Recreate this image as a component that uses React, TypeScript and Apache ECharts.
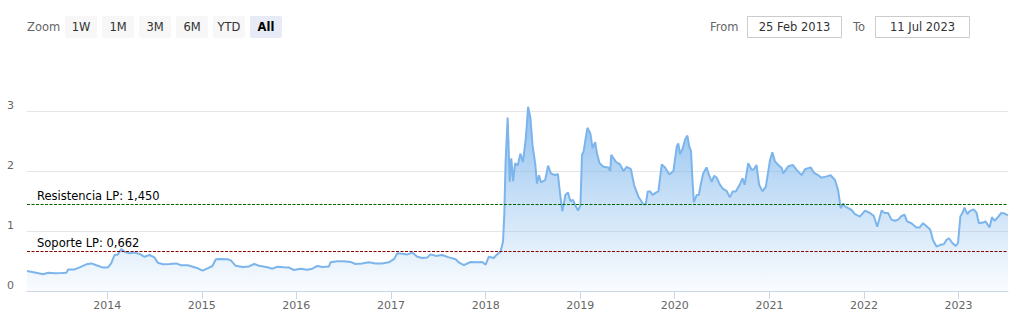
import { useEffect, useRef } from "react";
import * as echarts from "echarts";

const dates = [
  "2013-02-25", "2013-03-27", "2013-04-28", "2013-05-18", "2013-06-12", "2013-07-08", "2013-07-27", "2013-08-03", "2013-08-28", "2013-09-16", "2013-10-12", "2013-11-01", "2013-11-20", "2013-12-16",
  "2014-01-03", "2014-01-16", "2014-01-29", "2014-02-11", "2014-02-24", "2014-03-09", "2014-03-28", "2014-04-16", "2014-05-06", "2014-05-25", "2014-06-13", "2014-07-02", "2014-07-15", "2014-08-04", "2014-08-29", "2014-09-24", "2014-10-13", "2014-11-08", "2014-11-27", "2014-12-17",
  "2015-01-04", "2015-01-23", "2015-02-11", "2015-02-24", "2015-03-15", "2015-04-10", "2015-04-23", "2015-05-12", "2015-06-07", "2015-07-02", "2015-07-22", "2015-08-10", "2015-09-11", "2015-10-01", "2015-10-20", "2015-11-14", "2015-12-04", "2015-12-23",
  "2016-01-17", "2016-02-12", "2016-03-03", "2016-03-22", "2016-04-10", "2016-05-06", "2016-05-12", "2016-06-07", "2016-07-02", "2016-07-28", "2016-08-16", "2016-09-11", "2016-10-07", "2016-11-02", "2016-11-27", "2016-12-23",
  "2017-01-12", "2017-01-25", "2017-02-13", "2017-03-05", "2017-03-24", "2017-04-12", "2017-05-01", "2017-05-21", "2017-06-02", "2017-06-22", "2017-07-17", "2017-08-12", "2017-09-07", "2017-09-19", "2017-10-09", "2017-11-04", "2017-11-29", "2017-12-19",
  "2018-01-01", "2018-01-13", "2018-02-01", "2018-02-14", "2018-02-27", "2018-03-09", "2018-03-14", "2018-03-19", "2018-03-27", "2018-04-04", "2018-04-10", "2018-04-17", "2018-04-25", "2018-05-05", "2018-05-15", "2018-05-25", "2018-06-05", "2018-06-14", "2018-06-23", "2018-07-01", "2018-07-12", "2018-07-18", "2018-07-26", "2018-08-03", "2018-08-19", "2018-08-30", "2018-09-10", "2018-09-27", "2018-10-07", "2018-10-16", "2018-10-24", "2018-11-05", "2018-11-15", "2018-11-24", "2018-12-04", "2018-12-13", "2018-12-24",
  "2019-01-02", "2019-01-08", "2019-01-14", "2019-01-22", "2019-01-29", "2019-02-09", "2019-02-18", "2019-02-28", "2019-03-07", "2019-03-17", "2019-04-01", "2019-04-20", "2019-04-27", "2019-05-01", "2019-05-10", "2019-05-20", "2019-06-04", "2019-06-17", "2019-06-30", "2019-07-16", "2019-07-28", "2019-08-14", "2019-09-02", "2019-09-11", "2019-09-19", "2019-09-28", "2019-10-08", "2019-10-20", "2019-10-30", "2019-11-12", "2019-11-25", "2019-12-11", "2019-12-27",
  "2020-01-09", "2020-01-15", "2020-01-21", "2020-02-01", "2020-02-10", "2020-02-19", "2020-02-26", "2020-03-04", "2020-03-10", "2020-03-15", "2020-03-26", "2020-04-03", "2020-04-10", "2020-04-20", "2020-05-03", "2020-05-13", "2020-05-23", "2020-06-01", "2020-06-11", "2020-06-24", "2020-07-06", "2020-07-19", "2020-08-01", "2020-08-12", "2020-08-24", "2020-09-09", "2020-09-19", "2020-09-27", "2020-10-11", "2020-10-24", "2020-11-02", "2020-11-12", "2020-11-22", "2020-12-05", "2020-12-18",
  "2021-01-03", "2021-01-12", "2021-01-22", "2021-02-04", "2021-02-17", "2021-02-23", "2021-03-15", "2021-04-01", "2021-04-16", "2021-05-05", "2021-05-18", "2021-06-09", "2021-06-22", "2021-07-08", "2021-07-21", "2021-08-10", "2021-08-25", "2021-09-11", "2021-09-23", "2021-10-03", "2021-10-13", "2021-10-19", "2021-11-01", "2021-11-14", "2021-11-27", "2021-12-16",
  "2022-01-05", "2022-01-24", "2022-02-08", "2022-02-21", "2022-03-10", "2022-03-22", "2022-04-04", "2022-04-17", "2022-04-30", "2022-05-13", "2022-05-26", "2022-06-07", "2022-06-16", "2022-07-03", "2022-07-22", "2022-08-04", "2022-08-17", "2022-09-05", "2022-09-14", "2022-09-24", "2022-10-08", "2022-10-23", "2022-11-05", "2022-11-15", "2022-11-25", "2022-12-08", "2022-12-21", "2022-12-30",
  "2023-01-08", "2023-01-16", "2023-01-24", "2023-02-04", "2023-02-13", "2023-02-28", "2023-03-11", "2023-03-21", "2023-04-05", "2023-04-15", "2023-05-01", "2023-05-10", "2023-05-20", "2023-06-02", "2023-06-15", "2023-06-28", "2023-07-11",
];

const values = [
  0.333, 0.31, 0.28, 0.305, 0.295, 0.3, 0.305, 0.36, 0.36, 0.395, 0.445, 0.46, 0.43, 0.39,
  0.39, 0.46, 0.6, 0.61, 0.7, 0.655, 0.63, 0.64, 0.617, 0.57, 0.6, 0.56, 0.47, 0.445, 0.45, 0.46, 0.43, 0.43, 0.405, 0.378,
  0.34, 0.378, 0.417, 0.53, 0.535, 0.53, 0.51, 0.42, 0.4, 0.41, 0.45, 0.42, 0.395, 0.372, 0.405, 0.395, 0.39, 0.35,
  0.372, 0.355, 0.372, 0.417, 0.4, 0.41, 0.478, 0.495, 0.495, 0.485, 0.45, 0.46, 0.478, 0.46, 0.46, 0.478,
  0.53, 0.63, 0.62, 0.61, 0.64, 0.57, 0.55, 0.56, 0.61, 0.585, 0.6, 0.56, 0.53, 0.478, 0.43, 0.483, 0.478, 0.483,
  0.44, 0.57, 0.55, 0.61, 0.65, 0.82, 1.27, 2.15, 2.89, 1.82, 2.21, 1.83, 2.13, 2.09, 2.29, 2.15, 2.54, 3.07, 2.88, 2.43, 2.1, 1.79, 1.93, 1.81, 1.85, 2.09, 1.96, 1.93, 1.95, 1.6, 1.33, 1.6, 1.64, 1.5, 1.52, 1.43, 1.34,
  1.43, 2.27, 2.32, 2.54, 2.72, 2.63, 2.38, 2.48, 2.29, 2.13, 2.07, 2.06, 2.0, 2.27, 2.21, 2.15, 2.11, 2.0, 2.07, 2.03, 1.77, 1.57, 1.445, 1.445, 1.66, 1.66, 1.6, 1.64, 1.66, 2.11, 2.06, 1.94, 2.0,
  2.41, 2.46, 2.28, 2.38, 2.52, 2.59, 2.41, 2.33, 1.82, 1.48, 1.6, 1.6, 1.76, 1.96, 2.06, 1.93, 1.82, 1.92, 1.89, 1.77, 1.7, 1.67, 1.56, 1.66, 1.66, 1.78, 1.88, 1.77, 2.13, 2.02, 2.03, 2.1, 1.77, 1.66, 1.74,
  2.18, 2.31, 2.16, 2.1, 2.05, 1.96, 2.08, 2.1, 2.02, 1.93, 2.03, 2.06, 1.97, 1.93, 1.89, 1.91, 1.93, 1.85, 1.68, 1.38, 1.46, 1.41, 1.38, 1.35, 1.28, 1.24,
  1.34, 1.3, 1.25, 1.07, 1.34, 1.3, 1.3, 1.19, 1.17, 1.19, 1.25, 1.27, 1.16, 1.13, 1.06, 1.06, 1.13, 1.06, 1.02, 0.85, 0.74, 0.77, 0.78, 0.85, 0.88, 0.8, 0.75, 0.8,
  1.24, 1.3, 1.39, 1.28, 1.33, 1.36, 1.31, 1.13, 1.14, 1.16, 1.06, 1.23, 1.17, 1.23, 1.3, 1.29, 1.26,
];

const resistanceLP = 1.45;
const supportLP = 0.662;
const resistanceLabel = "Resistencia LP";
const supportLabel = "Soporte LP";
const tickYears = [2014, 2015, 2016, 2017, 2018, 2019, 2020, 2021, 2022, 2023];
const zoomButtons = ["1W", "1M", "3M", "6M", "YTD", "All"];
const selectedButton = "All";
const rangeStart = "2013-02-25";
const rangeEnd = "2023-07-11";
const monthNames = ["Jan", "Feb", "Mar", "Apr", "May", "Jun", "Jul", "Aug", "Sep", "Oct", "Nov", "Dec"];

const FONT = '"DejaVu Sans", Verdana, sans-serif';

function toTime(s: string) {
  const [y, m, d] = s.split("-").map(Number);
  return new Date(y, m - 1, d).getTime();
}

function fmtDate(s: string) {
  const [y, m, d] = s.split("-").map(Number);
  return `${d} ${monthNames[m - 1]} ${y}`;
}

function fmtNum(v: number) {
  return v.toFixed(3).replace(".", ",");
}

export default function App() {
  const ref = useRef<HTMLDivElement>(null);
  useEffect(() => {
    const chart = echarts.init(ref.current as HTMLDivElement, null, { renderer: "svg" });
    const data = dates.map((d, i) => [toTime(d), values[i]]);
    const tickValues = tickYears.map((y) => new Date(y, 0, 1).getTime());

    const graphic: any[] = [
      {
        type: "text",
        x: 27,
        y: 27,
        style: { text: "Zoom", fill: "#666", fontSize: 11.5, fontFamily: FONT, align: "left", verticalAlign: "middle" },
      },
    ];
    zoomButtons.forEach((b, i) => {
      const sel = b === selectedButton;
      graphic.push({
        type: "group",
        x: 65 + i * 37,
        y: 16,
        children: [
          { type: "rect", shape: { x: 0, y: 0, width: 32, height: 22, r: 2 }, style: { fill: sel ? "#e6ebf5" : "#f7f7f7" } },
          {
            type: "text",
            x: 16,
            y: 11,
            style: {
              text: b,
              fill: sel ? "#000" : "#333",
              fontWeight: sel ? "bold" : "normal",
              fontSize: 11.5,
              fontFamily: FONT,
              align: "center",
              verticalAlign: "middle",
            },
          },
        ],
      });
    });
    const boxes = [
      { label: "From", lx: 710, bx: 747.5, text: fmtDate(rangeStart) },
      { label: "To", lx: 853, bx: 875.5, text: fmtDate(rangeEnd) },
    ];
    boxes.forEach((b) => {
      graphic.push({
        type: "text",
        x: b.lx,
        y: 27,
        style: { text: b.label, fill: "#666", fontSize: 11.5, fontFamily: FONT, align: "left", verticalAlign: "middle" },
      });
      graphic.push({
        type: "rect",
        shape: { x: b.bx, y: 16.5, width: 94, height: 21 },
        style: { fill: "#fff", stroke: "#cccccc", lineWidth: 1 },
      });
      graphic.push({
        type: "text",
        x: b.bx + 47,
        y: 27,
        style: { text: b.text, fill: "#333", fontSize: 11.5, fontFamily: FONT, align: "center", verticalAlign: "middle" },
      });
    });

    chart.setOption({
      animation: false,
      grid: { left: 27, right: 8, top: 93, bottom: 34 },
      xAxis: {
        type: "value",
        min: toTime(rangeStart),
        max: toTime(rangeEnd),
        axisLine: { show: true, lineStyle: { color: "#ccd6eb", width: 1 } },
        axisTick: { show: true, length: 8, lineStyle: { color: "#ccd6eb" }, customValues: tickValues },
        axisLabel: {
          customValues: tickValues,
          formatter: (v: number) => String(new Date(v).getFullYear()),
          color: "#666",
          fontSize: 11,
          fontFamily: FONT,
          margin: 9,
        },
        splitLine: { show: false },
      },
      yAxis: {
        type: "value",
        min: 0,
        max: 3.3,
        interval: 1,
        axisLine: { show: false },
        axisTick: { show: false },
        axisLabel: {
          align: "left",
          verticalAlign: "bottom",
          margin: 20,
          color: "#666",
          fontSize: 11,
          fontFamily: FONT,
          showMaxLabel: false,
        },
        splitLine: { show: true, showMaxLine: false, lineStyle: { color: "#e6e6e6", width: 1 } },
      },
      series: [
        {
          type: "line",
          data,
          showSymbol: false,
          symbol: "none",
          lineStyle: { color: "#7cb5ec", width: 2 },
          itemStyle: { color: "#7cb5ec" },
          areaStyle: {
            opacity: 1,
            color: new echarts.graphic.LinearGradient(0, 0, 0, 1, [
              { offset: 0, color: "rgba(124,181,236,0.85)" },
              { offset: 0.5, color: "rgba(124,181,236,0.42)" },
              { offset: 1, color: "rgba(124,181,236,0.04)" },
            ]),
          },
          markLine: {
            silent: true,
            symbol: "none",
            animation: false,
            label: {
              position: "insideStartTop",
              distance: [10, 2],
              color: "#000",
              fontSize: 11.5,
              fontFamily: FONT,
            },
            data: [
              {
                yAxis: resistanceLP,
                lineStyle: { color: "#006400", type: [3, 1.5], width: 1 },
                label: { formatter: `${resistanceLabel}: ${fmtNum(resistanceLP)}` },
              },
              {
                yAxis: supportLP,
                lineStyle: { color: "#8b0000", type: [3, 1.5], width: 1 },
                label: { formatter: `${supportLabel}: ${fmtNum(supportLP)}` },
              },
            ],
          },
        },
      ],
      graphic,
    });
    return () => chart.dispose();
  }, []);
  return <div ref={ref} style={{ position: "absolute", left: 0, top: 0, width: 1016, height: 325 }} />;
}
